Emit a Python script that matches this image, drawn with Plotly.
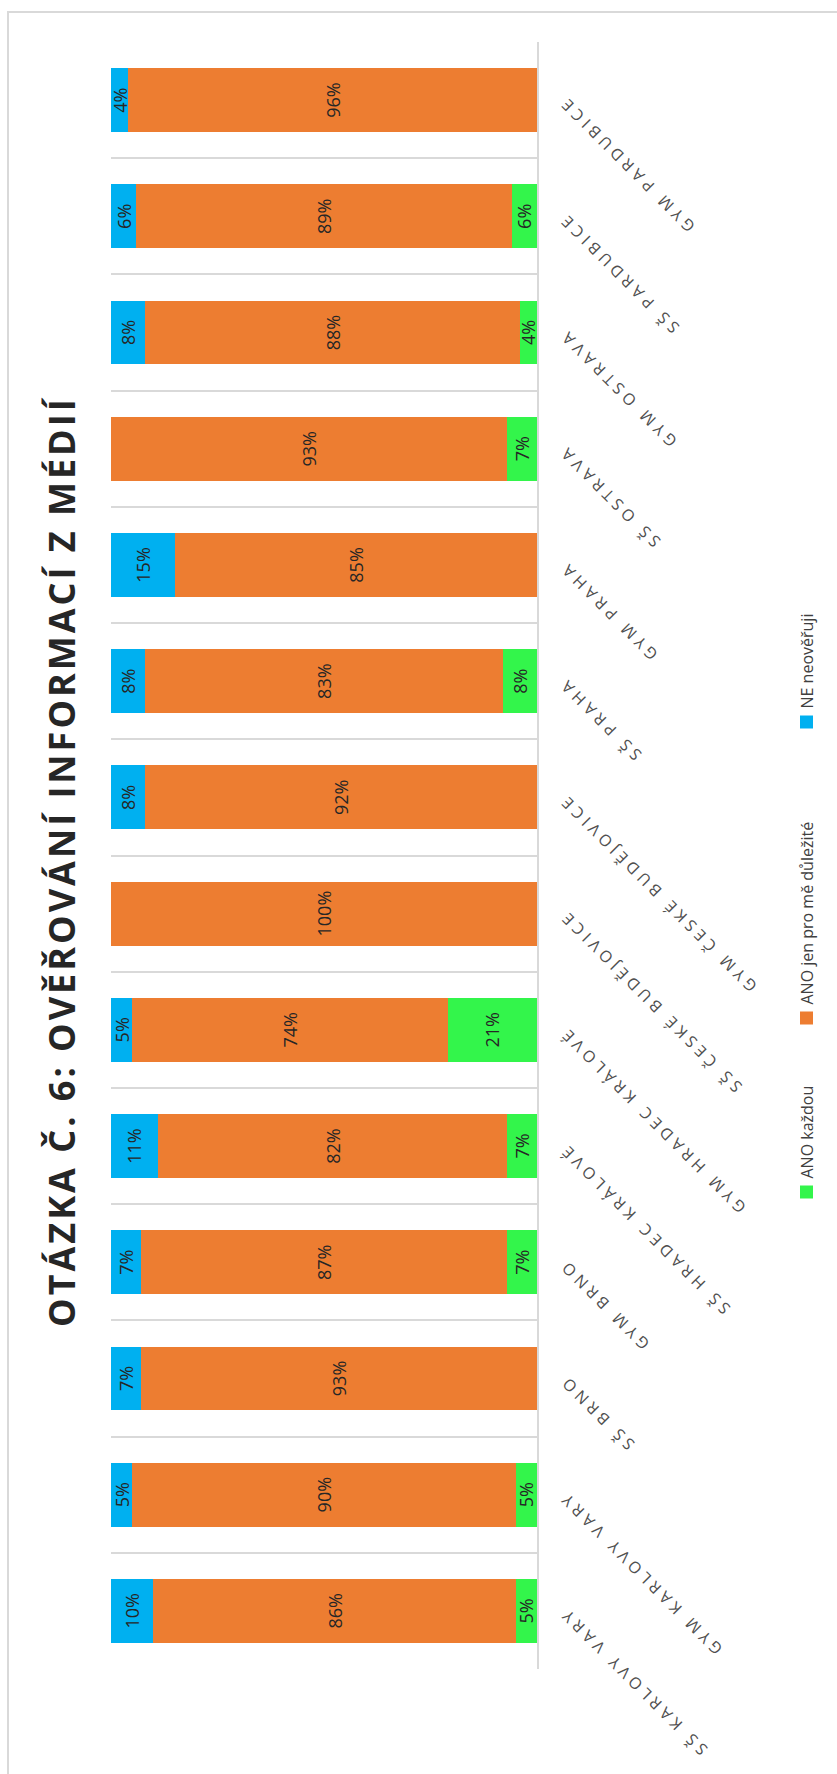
import plotly.graph_objects as go

# Schools, bottom to top
categories = [
    "SŠ KARLOVY VARY", "GYM KARLOVY VARY", "SŠ BRNO", "GYM BRNO",
    "SŠ HRADEC KRÁLOVÉ", "GYM HRADEC KRÁLOVÉ", "SŠ ČESKÉ BUDĚJOVICE",
    "GYM ČESKÉ BUDĚJOVICE", "SŠ PRAHA", "GYM PRAHA", "SŠ OSTRAVA",
    "GYM OSTRAVA", "SŠ PARDUBICE", "GYM PARDUBICE",
]
# Answer shares in percent
ano_kazdou = [5, 5, 0, 7, 7, 21, 0, 0, 8, 0, 7, 4, 6, 0]
ano_jen_dulezite = [86, 90, 93, 87, 82, 74, 100, 92, 83, 85, 93, 88, 89, 96]
ne_neoveruji = [10, 5, 7, 7, 11, 5, 0, 8, 8, 15, 0, 8, 6, 4]

series_names = ["ANO každou", "ANO jen pro mě důležité", "NE neověřuji"]
series_values = [ano_kazdou, ano_jen_dulezite, ne_neoveruji]
colors = ["#33F54B", "#ED7D31", "#00B0F0"]

title_text = "OTÁZKA Č. 6: OVĚŘOVÁNÍ INFORMACÍ Z MÉDIÍ"

# Figure geometry (pixels)
W, H = 837, 1774
L, R, T, B = 111, 537, 42, 1669


def px_x(px):
    return (px - L) / (R - L)


def px_y(py):
    return (B - py) / (B - T)


fig = go.Figure()
for name, vals, col in zip(series_names, series_values, colors):
    fig.add_trace(go.Bar(
        name=name,
        y=categories,
        x=vals,
        orientation="h",
        marker=dict(color=col, line=dict(width=0)),
        text=[f"{v}%" if v else "" for v in vals],
        textposition="inside",
        insidetextanchor="middle",
        textangle=-90,
        constraintext="none",
        textfont=dict(family="Open Sans", size=18, color="#262626"),
        hoverinfo="skip",
    ))

annotations = []
# Category labels, drawn diagonally to the right of the axis
for cat in categories:
    annotations.append(dict(
        x=px_x(551), xref="paper", y=cat, yref="y", yshift=11,
        text=f'<span style="letter-spacing:4.5px">{cat}</span>',
        textangle=-135, xanchor="left", yanchor="top", showarrow=False,
        font=dict(family="Open Sans", size=16, color="#505050"),
    ))

# Title
annotations.append(dict(
    x=px_x(61), xref="paper", y=px_y(862), yref="paper",
    text=f'<span style="letter-spacing:3px"><b>{title_text}</b></span>',
    textangle=-90, xanchor="center", yanchor="middle", showarrow=False,
    font=dict(family="Open Sans", size=36, color="#262626"),
))

# Legend: square marker plus rotated label
shapes = []
legend_square_y = [1192, 1018, 722]
for name, col, sy in zip(series_names, colors, legend_square_y):
    shapes.append(dict(
        type="rect", xref="paper", yref="paper",
        x0=px_x(800), x1=px_x(813), y0=px_y(sy + 6.5), y1=px_y(sy - 6.5),
        fillcolor=col, line=dict(width=0),
    ))
    annotations.append(dict(
        x=px_x(806), xref="paper", y=px_y(sy - 11), yref="paper",
        text=name, textangle=-90, xanchor="center", yanchor="bottom",
        showarrow=False,
        font=dict(family="Open Sans", size=16, color="#404040"),
    ))

# Chart border
shapes.append(dict(
    type="rect", xref="paper", yref="paper", layer="below",
    x0=px_x(8), x1=px_x(860), y0=px_y(12), y1=px_y(1800),
    line=dict(color="#D9D9D9", width=2), fillcolor="rgba(0,0,0,0)",
))

fig.update_layout(
    width=W, height=H,
    margin=dict(l=L, r=W - R, t=T, b=H - B, pad=0),
    barmode="stack", barnorm="percent", bargap=0.45,
    showlegend=False,
    plot_bgcolor="white", paper_bgcolor="white",
    xaxis=dict(range=[100, 0], showgrid=False, zeroline=False,
               showticklabels=False, ticks="", showline=False, fixedrange=True),
    yaxis=dict(type="category", categoryorder="array", categoryarray=categories,
               range=[-0.5, len(categories) - 0.5], side="right",
               showline=True, linecolor="#D9D9D9", linewidth=1.5,
               showgrid=True, gridcolor="#D9D9D9", gridwidth=1.5,
               tickson="boundaries", ticks="", showticklabels=False,
               zeroline=False, fixedrange=True),
    annotations=annotations,
    shapes=shapes,
)

fig.write_html("out.html")
